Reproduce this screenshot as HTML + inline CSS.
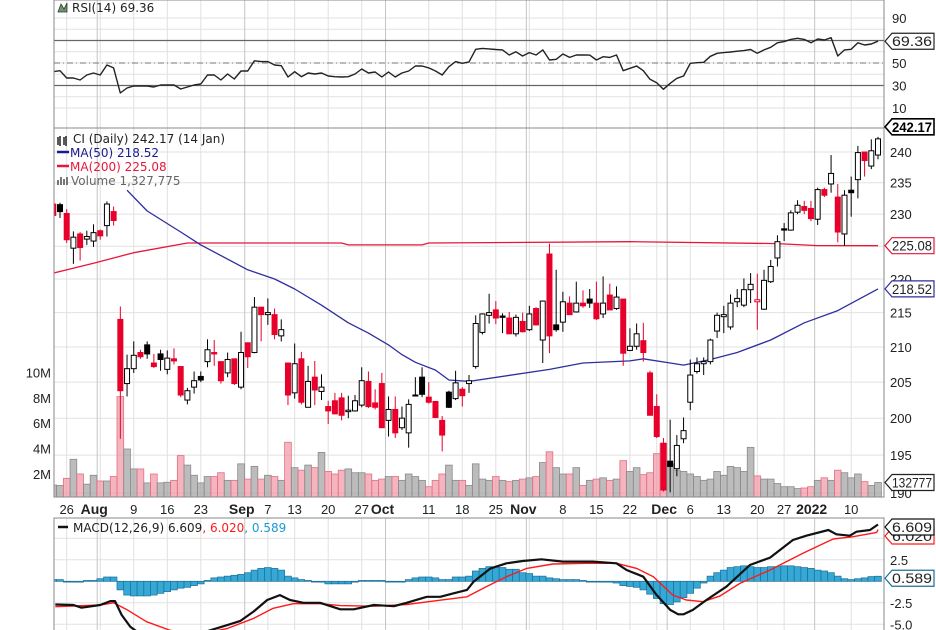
<!DOCTYPE html>
<html><head><meta charset="utf-8"><style>
html,body{margin:0;padding:0;background:#fff;}
svg{display:block;}
text{font-family:"Liberation Sans",sans-serif;}
.lg{font-family:"DejaVu Sans","Liberation Sans",sans-serif;font-size:12px;}
</style></head><body>
<svg id="chart" width="936" height="630" viewBox="0 0 936 630" xmlns="http://www.w3.org/2000/svg">
<defs>
<clipPath id="cRsi"><rect x="54" y="0" width="830" height="128"/></clipPath>
<clipPath id="cPrice"><rect x="54" y="128" width="830" height="369"/></clipPath>
<clipPath id="cMacd"><rect x="54" y="518" width="830" height="112"/></clipPath>
</defs>
<g id="grid"></g>
<g id="vol" clip-path="url(#cPrice)"></g>
<g id="ma" clip-path="url(#cPrice)"></g>
<g id="candles" clip-path="url(#cPrice)"></g>
<g id="rsi" clip-path="url(#cRsi)"></g>
<g id="macd" clip-path="url(#cMacd)"></g>
<g id="frame"></g>
<g id="axes"></g>
<g id="tags"></g>

<g>
<path d="M58,12 L61,4 L64,9 L67,3 L67,12 Z" fill="#6a9a6a" stroke="#333" stroke-width="0.8"/>
<text class="lg" x="72" y="12" fill="#222">RSI(14) 69.36</text>
</g>
<g>
<path d="M58,137 v8 M60,136 v10 M64,137 v8 M66,136 v10" stroke="#222" stroke-width="1.5"/>
<text class="lg" x="73" y="143" fill="#222">CI (Daily) 242.17 (14 Jan)</text>
<line x1="57" y1="152" x2="69" y2="152" stroke="#1a1a8c" stroke-width="2.5"/>
<text class="lg" x="70" y="157" fill="#1a1a8c">MA(50) 218.52</text>
<line x1="57" y1="166" x2="69" y2="166" stroke="#e8163c" stroke-width="2.5"/>
<text class="lg" x="70" y="171" fill="#e8163c">MA(200) 225.08</text>
<path d="M58,185 v-5 M61,185 v-8 M64,185 v-6 M67,185 v-8" stroke="#777" stroke-width="2"/>
<text class="lg" x="71" y="185" fill="#666">Volume 1,327,775</text>
</g>
<g>
<line x1="58" y1="527" x2="68" y2="527" stroke="#111" stroke-width="2.5"/>
<text class="lg" x="73" y="532" fill="#222">MACD(12,26,9) 6.609<tspan fill="#ff1a1a">, 6.020</tspan><tspan fill="#1a9ad6">, 0.589</tspan></text>
</g>
</svg>
<script>
// ---------- DATA ----------
const startIndex = -2;
const opens  = [231.6,231.5,230.1,224.7,226.9,226.1,225.8,227.4,228.2,230.4,214.0,204.8,206.9,209.2,210.3,207.7,209.0,206.8,208.3,207.2,202.5,204.3,205.8,207.9,209.2,207.9,206.3,208.3,204.3,210.6,209.2,215.8,214.7,214.7,211.6,207.7,203.5,208.3,201.5,205.7,203.7,201.6,202.4,202.8,200.9,201.0,201.8,205.1,202.1,204.8,199.7,201.2,198.7,198.0,203.2,205.7,202.9,202.3,199.7,203.6,202.7,204.0,204.8,207.2,212.1,214.6,215.4,214.5,214.2,211.9,213.7,212.5,215.6,211.0,223.8,213.2,213.6,216.4,215.1,216.4,217.0,216.4,214.8,217.6,215.6,217.0,209.5,210.1,210.9,206.3,201.6,196.6,194.2,193.2,197.2,202.2,206.5,207.6,207.9,212.3,214.4,212.9,216.6,216.1,218.4,216.6,215.5,219.6,223.2,227.7,227.5,230.3,231.2,230.9,229.2,233.9,234.8,232.7,226.9,233.8,235.5,240.0,237.7,239.5];
const highs  = [232.0,231.8,230.8,227.3,227.2,227.4,228.4,227.6,232.0,231.2,215.9,208.9,210.8,209.6,210.8,209.0,209.6,209.5,209.8,207.2,204.2,206.5,206.5,211.1,211.0,207.9,209.2,208.3,212.2,210.6,217.3,215.8,217.1,215.6,214.0,207.7,210.5,209.3,207.3,208.0,206.1,202.4,203.5,203.5,203.1,203.2,207.1,206.5,204.0,206.3,203.0,203.0,201.6,202.6,205.7,207.1,205.0,202.3,200.3,203.8,206.6,204.3,206.0,214.6,214.9,217.8,216.7,214.9,215.1,214.7,215.0,216.0,215.8,216.8,225.4,221.4,218.1,217.4,219.6,218.3,218.5,219.6,220.4,219.3,218.9,217.0,212.7,213.4,213.5,206.6,203.3,197.3,199.8,197.7,200.1,208.2,208.5,208.5,211.2,215.0,216.0,217.7,218.5,220.1,220.9,220.8,221.4,222.9,226.7,228.6,230.6,232.2,232.1,232.1,234.2,234.2,239.5,234.8,233.8,236.0,241.0,240.0,242.1,242.5];
const lows   = [229.5,229.4,225.5,222.3,222.8,225.2,224.9,226.0,226.5,228.2,197.2,203.0,206.3,208.3,208.3,207.0,206.6,206.1,207.5,202.9,201.9,203.4,205.0,207.1,207.3,204.8,205.7,204.6,204.0,207.0,209.1,210.8,213.2,211.1,210.8,201.8,202.7,201.9,201.5,201.8,202.5,199.2,200.5,199.7,200.0,200.9,201.5,201.4,201.2,198.7,197.5,197.3,198.4,196.0,203.0,202.9,202.0,200.0,195.5,201.4,202.5,201.6,203.5,206.9,211.8,213.4,213.3,212.0,211.9,211.5,212.1,212.3,213.1,207.7,209.1,212.2,212.2,214.7,215.0,215.7,215.7,213.9,214.2,215.4,215.4,207.3,209.4,209.6,207.9,200.4,197.3,190.2,190.1,192.2,196.6,201.1,206.2,206.0,207.5,211.3,212.0,212.5,215.8,215.8,216.4,212.5,215.4,219.4,221.9,225.8,227.4,230.0,230.0,228.9,228.3,232.7,233.4,225.6,225.1,229.6,232.5,236.0,237.2,238.8];
const closes = [229.8,230.4,226.0,226.4,224.8,226.5,227.1,226.6,231.6,229.0,203.8,206.9,208.8,208.6,209.0,207.2,208.2,208.4,208.0,203.2,203.8,205.2,205.3,209.6,209.0,205.2,208.2,204.8,209.2,208.6,215.8,214.7,215.0,211.8,212.5,203.2,207.6,202.2,205.1,203.9,204.3,201.0,200.6,200.4,201.1,202.4,205.2,201.6,201.5,198.7,201.2,198.0,200.0,201.9,203.1,203.3,202.2,200.1,197.7,201.5,204.9,203.1,205.2,213.4,214.8,215.0,214.2,214.3,211.9,214.3,212.2,214.8,213.2,216.7,211.6,212.5,216.6,214.7,216.4,216.0,216.4,214.1,216.4,215.4,217.3,209.1,210.1,211.9,209.2,200.4,197.5,190.4,193.5,196.3,198.3,206.0,207.6,207.9,211.0,214.6,214.7,216.4,217.1,218.4,219.2,216.9,219.8,221.9,225.7,227.5,230.2,231.4,230.6,229.3,233.9,233.0,236.5,227.2,233.0,233.4,239.9,238.6,240.2,242.17];
const volumesM = [1.13,1.1,1.66,3.16,2.0,1.2,1.9,1.45,1.45,1.8,8.1,3.97,2.4,2.4,1.3,2.0,1.3,1.35,1.5,3.45,2.7,1.9,1.3,1.8,1.8,2.1,1.5,1.5,2.8,1.6,2.6,1.6,1.9,1.8,1.5,4.5,2.5,2.3,2.7,2.5,3.7,2.2,2.0,2.3,2.4,2.1,2.1,2.0,1.5,1.6,1.8,1.8,1.5,2.0,1.8,1.5,1.0,1.5,2.0,2.7,1.5,1.5,1.1,2.8,1.6,1.5,1.8,1.5,1.4,1.5,1.6,1.7,1.8,2.9,3.75,2.5,2.0,2.0,2.5,1.1,1.5,1.6,1.7,1.5,1.6,3.05,2.2,2.5,1.95,2.1,3.6,4.4,2.8,2.3,2.2,2.0,1.8,1.5,1.6,2.2,1.9,2.6,2.5,2.2,4.1,1.85,1.6,1.6,1.25,1.0,1.0,0.85,0.9,1.0,1.5,1.7,1.5,2.3,2.1,1.7,2.0,1.4,1.1,1.33];
const ma50Idx = [9,12,17,20,27,31,34,38,42,45,48,50,52,55,57,60,72,77,84,86,90,92,96,100,105,110,115,121];
const ma50Val = [233.8,230.5,227.2,225.2,221.4,220.0,218.5,216.1,213.5,212.0,210.3,208.9,207.8,206.7,205.3,205.1,206.8,207.7,208.0,208.3,207.7,207.4,208.2,209.2,211.0,213.5,215.3,218.52];
const ma200Idx = [-2,4,10,18,41,42,53,54,84,106,112,121];
const ma200Val = [220.9,222.4,224.0,225.5,225.5,225.2,225.2,225.5,225.7,225.4,225.1,225.08];
const rsiVals = [42.3,43.2,36.7,36.7,34.9,39.3,41.1,39.3,48.2,45.6,23.3,27.8,29.6,29.6,29.6,28.7,30.4,30.4,30.4,26.9,28.7,30.4,31.3,39.3,39.3,34.9,40.2,35.8,42.9,42.9,52,51.2,51.2,48.2,47.6,37.6,42.3,37.8,41.1,40.2,41.1,38.4,37.8,37.6,37.8,40.2,44.7,41.1,42,37.6,42,37.6,41.1,42.9,47.3,47.3,45.6,42.9,39.3,46.7,51.2,49.7,51,62.2,63,62.5,62,61.6,57.1,60,56.2,59.2,57.1,61.6,52.7,53.3,58,55,57.1,57.1,57,52.7,55.6,55,57.1,43.2,45.3,47.3,43.2,35.5,32.5,26.6,32,36.4,38.4,49.7,50.3,50.6,56,58.6,59.2,59.8,60.5,61,62,58.6,61.6,64,68,69,71,72,71,68,71.3,70.4,72.5,56.2,61.6,62.2,68,66,66.9,69.36];
const histVals = [0.2,0.2,0,-0.1,-0.1,0.1,0.1,0.3,0.5,0.5,-1.0,-1.6,-1.7,-1.7,-1.7,-1.6,-1.4,-1.2,-1.0,-0.8,-0.7,-0.5,-0.3,0.1,0.4,0.5,0.6,0.7,0.8,1.0,1.3,1.5,1.6,1.5,1.3,0.6,0.4,0.2,0.1,0.0,-0.1,-0.3,-0.3,-0.3,-0.3,-0.1,0.1,0.1,0.1,0.1,0.0,0.0,-0.1,0.2,0.4,0.5,0.5,0.4,0.2,0.2,0.5,0.5,0.6,1.2,1.5,1.7,1.65,1.6,1.4,1.4,1.0,0.9,0.6,0.6,0.4,0.3,0.2,0.2,0.2,0.1,0.0,0.0,-0.1,-0.1,-0.2,-0.5,-0.6,-0.7,-1.0,-1.5,-2.0,-2.6,-2.7,-2.4,-1.9,-1.4,-0.8,-0.2,0.6,1.0,1.3,1.6,1.7,1.8,1.7,1.6,1.6,1.7,1.7,1.8,1.8,1.7,1.6,1.5,1.3,1.2,1.0,0.6,0.3,0.2,0.3,0.4,0.55,0.589];
const macdIdx = [-1.7,1,2.2,5,6.5,7.2,8.2,9.5,10.4,12,14,17,19,21.4,23.9,25.9,27.9,29.9,31.8,33.3,35.3,37.8,40.8,42.8,45.8,48.8,50.7,53.7,55.7,57.7,59.7,60.7,63.2,65.6,68,70.8,74,78.5,82,83.5,86,88,90,91.2,92,93.4,95.4,98.4,101.9,104.9,108.3,110.3,113.6,114.8,116.8,117.8,119.8,121];
const macdVal = [-2.7,-2.76,-3.07,-2.76,-2.3,-2.3,-3.92,-5.3,-5.8,-6.6,-7.0,-6.8,-6.3,-5.7,-5.1,-4.6,-3.5,-2.17,-1.6,-2.17,-2.5,-2.5,-3.25,-3.25,-2.76,-2.9,-2.5,-1.8,-1.8,-1.4,-1.0,-0.04,1.5,2.09,2.36,2.56,2.29,2.29,2.09,1.31,0.54,-1.6,-3.33,-3.84,-3.84,-3.33,-2.17,-0.62,1.9,2.75,4.8,5.3,5.96,5.46,5.3,5.77,5.96,6.609];
const sigIdx = [-1.7,5,7,9,11.9,15.4,19.4,23.9,27.9,30.8,33.8,37.8,40.8,45.8,50.7,55.7,59.7,62.6,65.6,68.6,72.5,77.5,82,85,87.5,90.4,92.4,94.9,97.4,100.4,104.9,109.8,114.3,117.3,120.8,121];
const sigVal = [-2.95,-2.76,-2.5,-3.3,-4.7,-5.7,-6.2,-5.5,-4.3,-3.14,-2.6,-2.6,-2.83,-2.9,-2.7,-2.2,-1.8,-0.62,0.54,1.5,2.01,2.09,2.09,1.5,0.54,-1.6,-2.17,-2.37,-1.72,-0.24,1.31,3.25,4.92,5.19,5.69,6.02];
const priceTicks = [240,235,230,220,215,210,205,200,195,190];
const priceGrid = [190,195,200,205,210,215,220,225,230,235,240];
const volTicks = [2,4,6,8,10];
const rsiTicks = [90,50,30,10];
const macdTicks = [5.0,2.5,-2.5,-5.0];
const weekIdx = [0,10,15,20,30,34,39,44,54,59,64,74,79,84,93,98,103,107,117];
const weekLbl = ["26","9","16","23","7","13","20","27","11","18","25","8","15","22","6","13","20","27","10"];
const monthIdx = [5,27,48,69,90,112];
const monthLbl = ["Aug","Sep","Oct","Nov","Dec","2022"];

// ---------- SCALES ----------
const X = i => 66.7 + 6.705*i;
const PY = p => 152 + 1460*Math.log(240/p);
const VY = v => 499.4 - 12.7*v;
const RY = v => 108 - (v-10)*1.125;
const MY = v => 581.3 - v*8.6;
const NS = "http://www.w3.org/2000/svg";
function mk(tag, attrs, parent){const e=document.createElementNS(NS,tag);for(const k in attrs)e.setAttribute(k,attrs[k]);parent.appendChild(e);return e;}
const G = id => document.getElementById(id);

// ---------- GRID ----------
const grid = G('grid');
priceGrid.forEach(p=>{const l=mk('line',{x1:54,x2:884,y1:PY(p),y2:PY(p),stroke:'#e2e2e2','stroke-width':1},grid);

});
for(let v=10;v<=90;v+=10){const l=mk('line',{x1:54,x2:884,y1:RY(v),y2:RY(v),stroke:'#e2e2e2'},grid);

}
[5,2.5,0,-2.5,-5].forEach(v=>{const l=mk('line',{x1:54,x2:884,y1:MY(v),y2:MY(v),stroke:'#e2e2e2'},grid);

});
weekIdx.concat([5,69,88]).forEach(i=>{[[0,128],[128,497],[518,630]].forEach(r=>{const l=mk('line',{x1:X(i),x2:X(i),y1:r[0],y2:r[1],stroke:'#e0e0e0'},grid);

});});
monthIdx.forEach(i=>{[[0,128],[128,497],[518,630]].forEach(r=>{const l=mk('line',{x1:X(i)-3,x2:X(i)-3,y1:r[0],y2:r[1],stroke:'#c4c4c4'},grid);

});});
[70,30].forEach(v=>{const l=mk('line',{x1:54,x2:884,y1:RY(v),y2:RY(v),stroke:'#666','stroke-width':1.2},grid);

});
{const l=mk('line',{x1:54,x2:884,y1:RY(50),y2:RY(50),stroke:'#777','stroke-dasharray':'6,3,1,3'},grid);

}

// ---------- VOLUME ----------
const vol = G('vol');
volumesM.forEach((v,k)=>{const i=k+startIndex;const down=k>0&&closes[k]<closes[k-1];
const y=VY(v);const r=mk('rect',{x:X(i)-3.35,y:y,width:6.7,height:499.4-y,fill:down?'rgba(240,140,155,0.65)':'rgba(160,160,160,0.7)',stroke:down?'#e07085':'#8a8a8a','stroke-width':0.8},vol);

});

// ---------- MOVING AVERAGES ----------
const ma = G('ma');
function line(idx, vals, yf, color, w, parent, name){let d='';idx.forEach((i,k)=>{d+=(k?'L':'M')+X(i).toFixed(1)+','+yf(vals[k]).toFixed(1);});
const p=mk('path',{d:d,fill:'none',stroke:color,'stroke-width':w,'stroke-linejoin':'round'},parent);

return p;}
line(ma200Idx, ma200Val, PY, '#e8163c', 1.3, ma, 'ma200-line');
line(ma50Idx, ma50Val, PY, '#2e2e9e', 1.3, ma, 'ma50-line');

// ---------- CANDLES ----------
const cg = G('candles');
closes.forEach((c,k)=>{const i=k+startIndex;const o=opens[k],h=highs[k],l=lows[k];
const prev=k>0?closes[k-1]:o;const col=c>=prev?'#000':'#e8002a';const x=X(i);
const w=mk('line',{x1:x,x2:x,y1:PY(h),y2:PY(l),stroke:col,'stroke-width':1},cg);


const top=PY(Math.max(o,c)),bot=PY(Math.min(o,c));
const b=mk('rect',{x:x-2.5,y:top,width:5,height:Math.max(1,bot-top),fill:c>o?'#fff':col,stroke:col,'stroke-width':1},cg);

});

// ---------- RSI ----------
const rg = G('rsi');
const rIdx = rsiVals.map((v,k)=>k+startIndex);
line(rIdx, rsiVals, RY, '#222', 1.4, rg, 'rsi-line');

// ---------- MACD ----------
const mg = G('macd');
histVals.forEach((v,k)=>{const i=k+startIndex;const y0=MY(0),y1=MY(v);
const r=mk('rect',{x:X(i)-3.35,y:Math.min(y0,y1),width:6.7,height:Math.max(0.8,Math.abs(y1-y0)),fill:'#35a8d6',stroke:'#1d6f98','stroke-width':0.7},mg);

});
line(sigIdx, sigVal, MY, '#ff1a1a', 1.4, mg, 'macd-signal-line');
line(macdIdx, macdVal, MY, '#111', 2.2, mg, 'macd-line');

// ---------- FRAMES ----------
const fr = G('frame');
[[54,0,830,128],[54,128,830,369],[54,518,830,114]].forEach(r=>{const e=mk('rect',{x:r[0],y:r[1],width:r[2],height:r[3],fill:'none',stroke:'#8a8a8a','stroke-width':1},fr);

});

// ---------- AXIS LABELS ----------
const ax = G('axes');
function txt(x,y,s,attrs,name){const t=mk('text',Object.assign({x:x,y:y,'font-size':13,fill:'#222'},attrs||{}),ax);t.textContent=s;

return t;}
priceTicks.forEach(p=>txt(890,PY(p)+5,String(p),{},'price-tick-label'));
rsiTicks.forEach(v=>txt(892,RY(v)+5,String(v),{},'rsi-tick-label'));
macdTicks.forEach(v=>txt(890,MY(v)+5,v.toFixed(1),{},'macd-tick-label'));
volTicks.forEach(v=>txt(51,VY(v)+5,v+'M',{'text-anchor':'end'},'volume-tick-label'));
weekIdx.forEach((i,k)=>txt(X(i),514,weekLbl[k],{'text-anchor':'middle'},'date-tick-label'));
monthIdx.forEach((i,k)=>txt(X(i)-6,514,monthLbl[k],{'text-anchor':'middle','font-weight':'bold','font-size':14},'month-tick-label'));

// ---------- TAGS ----------
const tg = G('tags');
function tag(y,s,color,bold,name){const g=mk('g',{},tg);


mk('path',{d:`M885,${y} L892,${y-8} L934,${y-8} L934,${y+8} L892,${y+8} Z`,fill:'#fff',stroke:color,'stroke-width':bold?1.6:1.2},g);
const t=mk('text',{x:892,y:y+5,'font-size':bold?14:13.5,'font-weight':bold?'bold':'normal',fill:bold?'#000':'#222',textLength:40,lengthAdjust:'spacingAndGlyphs'},g);t.textContent=s;}
tag(RY(69.36),'69.36','#222',false,'rsi-value-tag');
tag(PY(242.17)-12,'242.17','#000',true,'price-value-tag');
tag(PY(225.08),'225.08','#e8163c',false,'ma200-value-tag');
tag(PY(218.52),'218.52','#2e2e9e',false,'ma50-value-tag');
tag(VY(1.33),'132777','#222',false,'volume-value-tag');
tag(536,'6.020','#ff1a1a',false,'signal-value-tag');
tag(527,'6.609','#111',false,'macd-value-tag');
tag(MY(0.589)+2,'0.589','#1d6f98',false,'histogram-value-tag');
</script>
</body></html>
